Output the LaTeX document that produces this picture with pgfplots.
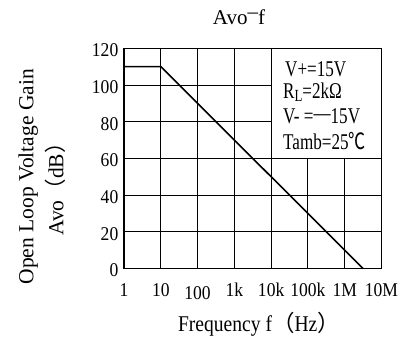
\documentclass[border=0pt]{standalone}
\usepackage{fontspec}
\setmainfont{Liberation Serif}
\newfontfamily\tickfont{Liberation Serif}[FakeStretch=0.9]
\newfontfamily\xlabfont{Liberation Serif}[FakeStretch=0.87]
\newfontfamily\legfont{Liberation Serif}[FakeStretch=0.76]
\newfontfamily\cjk{Noto Sans CJK SC}
\newfontfamily\cjkc{Noto Sans CJK SC}[FakeStretch=0.76]
\usepackage{pgfplots}
\pgfplotsset{compat=1.18}

\begin{document}
\begin{tikzpicture}
\path[use as bounding box] (-124bp,-75.5bp) rectangle (283bp,268.5bp);
\begin{axis}[
  at={(0,0)}, anchor=south west,
  scale only axis, width=257.5bp, height=220.2bp,
  xmode=log, xmin=1, xmax=1e7,
  ymin=0, ymax=120,
  xtick={1,10,100,1000,10000,100000,1000000,10000000},
  xticklabels={1,10,\raisebox{-3bp}{100},1k,10k,100k,1M,10M},
  ytick={0,20,40,60,80,100,120},
  xminorticks=false, yminorticks=false,
  grid=major, major grid style={black, line width=0.9bp},
  major tick length=0pt,
  axis line style={black, line width=1bp},
  /pgf/number format/assume math mode=true,
  tick label style={font=\fontsize{19.5bp}{22bp}\tickfont},
  xticklabel style={anchor=base, yshift=-28bp, inner sep=0pt},
  yticklabel style={anchor=east, xshift=-5.5bp, yshift=-2bp, inner sep=0pt},
  clip=false,
]
\addplot[fill=white, draw=black, line width=1bp] coordinates {(1e4,60) (1e7,60) (1e7,120) (1e4,120) (1e4,60)};
\addplot[black, line width=1.6bp] coordinates {(1,110) (10,110) (3.16e6,0)};
\end{axis}
% legend box text
\begin{scope}[every node/.style={anchor=base west, inner sep=0pt, font=\fontsize{22.5bp}{25bp}\legfont}]
\node at (161bp,191.8bp) {V+=15V};
\node at (159bp,170.2bp) {R\raisebox{-0.15em}{\fontsize{17bp}{17bp}\selectfont L}=2kΩ};
\node at (159bp,145.2bp) {V- =\raisebox{0.14em}{—}15V};
\node at (159bp,118.5bp) {Tamb=25{\cjkc ℃}};
\end{scope}
% title
\node[anchor=base, inner sep=0pt, font=\fontsize{21bp}{24bp}\selectfont] at (115bp,243.5bp) {Avo\raisebox{0.3em}{–}f};
% y label
\node[rotate=90, anchor=base, inner sep=0pt, font=\fontsize{21.5bp}{24bp}\selectfont] at (-90.7bp,91.8bp) {Open Loop Voltage Gain};
\node[rotate=90, anchor=base, inner sep=0pt, font=\fontsize{21.5bp}{24bp}\selectfont] at (-60.7bp,84.5bp) {Avo{\cjk （}dB{\cjk ）}};
% x label
\node[anchor=base, inner sep=0pt, font=\fontsize{22.5bp}{25bp}\xlabfont] at (135bp,-62.5bp) {Frequency f{\cjk （}Hz{\cjk ）}};
\end{tikzpicture}
\end{document}
